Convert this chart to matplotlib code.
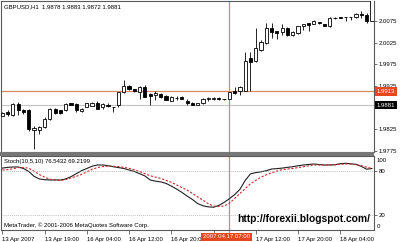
import numpy as np
import matplotlib
matplotlib.use("Agg")
import matplotlib.pyplot as plt
import matplotlib.transforms as mtransforms
from matplotlib.patches import Rectangle

plt.rcParams['font.family'] = ['Liberation Sans', 'DejaVu Sans']

# GBPUSD H1 candles
opens = [1.9857, 1.9865, 1.9858, 1.9884, 1.9870, 1.9869, 1.9824, 1.9823, 1.9831, 1.9848,
         1.9873, 1.9869, 1.9869, 1.9886, 1.9884, 1.9867, 1.9877, 1.9879, 1.9886, 1.9877,
         1.9881, 1.9876, 1.9881, 1.9911, 1.9925, 1.9918, 1.9911, 1.9923, 1.9906, 1.9904,
         1.9906, 1.9902, 1.9891, 1.9898, 1.9900, 1.9891, 1.9887, 1.9882, 1.9885, 1.9896,
         1.9896, 1.9897, 1.9896, 1.9896, 1.9914, 1.9914, 1.9914, 1.9989, 1.9982, 2.0008,
         2.0024, 2.0058, 2.0051, 2.0049, 2.0058, 2.0042, 2.0047, 2.0063, 2.0070, 2.0068,
         2.0072, 2.0068, 2.0063, 2.0081, 2.0083, 2.0083, 2.0083, 2.0083, 2.0091, 2.0088,
         2.0076]
highs = [1.9866, 1.9870, 1.9886, 1.9888, 1.9871, 1.9873, 1.9833, 1.9834, 1.9853, 1.9875,
         1.9875, 1.9870, 1.9886, 1.9887, 1.9885, 1.9874, 1.9887, 1.9888, 1.9891, 1.9886,
         1.9886, 1.9877, 1.9912, 1.9938, 1.9927, 1.9919, 1.9926, 1.9928, 1.9908, 1.9914,
         1.9908, 1.9904, 1.9902, 1.9903, 1.9901, 1.9894, 1.9888, 1.9887, 1.9897, 1.9899,
         1.9900, 1.9900, 1.9896, 1.9912, 1.9923, 1.9925, 2.0004, 2.0004, 2.0058, 2.0031,
         2.0071, 2.0070, 2.0052, 2.0068, 2.0060, 2.0051, 2.0064, 2.0069, 2.0071, 2.0077,
         2.0073, 2.0069, 2.0083, 2.0083, 2.0084, 2.0084, 2.0084, 2.0093, 2.0098, 2.0093,
         2.0130]
lows = [1.9855, 1.9857, 1.9856, 1.9858, 1.9860, 1.9822, 1.9781, 1.9814, 1.9829, 1.9846,
        1.9860, 1.9860, 1.9868, 1.9881, 1.9866, 1.9866, 1.9876, 1.9878, 1.9872, 1.9871,
        1.9876, 1.9866, 1.9877, 1.9910, 1.9916, 1.9912, 1.9896, 1.9899, 1.9881, 1.9893,
        1.9898, 1.9892, 1.9890, 1.9893, 1.9894, 1.9881, 1.9881, 1.9881, 1.9884, 1.9891,
        1.9892, 1.9893, 1.9893, 1.9895, 1.9906, 1.9904, 1.9913, 1.9914, 1.9980, 2.0006,
        2.0022, 2.0035, 2.0033, 2.0042, 2.0040, 2.0041, 2.0046, 2.0054, 2.0051, 2.0067,
        2.0069, 2.0063, 2.0062, 2.0079, 2.0082, 2.0075, 2.0077, 2.0082, 2.0082, 2.0070,
        2.0074]
closes = [1.9863, 1.9860, 1.9883, 1.9870, 1.9866, 1.9825, 1.9828, 1.9831, 1.9848, 1.9873,
          1.9862, 1.9864, 1.9883, 1.9882, 1.9869, 1.9873, 1.9886, 1.9887, 1.9873, 1.9884,
          1.9880, 1.9877, 1.9911, 1.9925, 1.9918, 1.9914, 1.9923, 1.9900, 1.9902, 1.9908,
          1.9900, 1.9893, 1.9900, 1.9897, 1.9895, 1.9885, 1.9882, 1.9886, 1.9896, 1.9898,
          1.9897, 1.9896, 1.9894, 1.9911, 1.9910, 1.9922, 1.9983, 1.9980, 2.0012, 2.0027,
          2.0058, 2.0049, 2.0048, 2.0058, 2.0042, 2.0049, 2.0063, 2.0068, 2.0066, 2.0075,
          2.0070, 2.0064, 2.0081, 2.0081, 2.0082, 2.0084, 2.0084, 2.0091, 2.0088, 2.0075,
          2.0124]

# Stochastic(10,5,10): main and signal
stoch_main = [83.5, 84.5, 85, 85, 83, 79, 72.5, 69, 68, 67.6,
              67.6, 67.6, 69, 72, 76, 80, 83, 86, 87.7, 87.7,
              86.8, 85.4, 84.2, 83, 81, 79, 76, 73, 67.6, 66,
              65, 63, 59.5, 55.5, 51, 46, 41.5, 36, 33, 31.6,
              31, 33.5, 37.5, 42.5, 48, 55, 67, 75.8, 77.5, 78.5,
              80, 82.3, 82.8, 83.5, 84.5, 85.4, 86.6, 87.7, 88.4, 89,
              88.3, 87.7, 87.7, 88, 89.4, 90, 89.3, 88.5, 85.8, 82,
              83]
stoch_signal = [81, 81.5, 82.5, 84.2, 84.4, 83.3, 79.5, 75, 71.5, 68.6,
                67.5, 66.7, 68.2, 70.3, 72.5, 75, 78.5, 81.8, 84.2, 85.6,
                86.1, 86, 85.6, 84.5, 83.2, 81.2, 78.9, 76, 73.3, 71.5,
                69.7, 67.2, 64.4, 61, 57.4, 54, 49.5, 45, 40.5, 35.8,
                32.6, 32, 32.8, 36.3, 42.8, 49.5, 56, 62.5, 67, 71.4,
                74.5, 77.2, 79.5, 81.3, 82.3, 83, 84.2, 85.4, 86.6, 87.7,
                87.7, 87.7, 87.7, 88, 88.6, 89, 89, 88, 86.7, 84.8,
                83]

price_ticks = [2.0075, 2.0025, 1.9975, 1.9925, 1.9825, 1.9775]
time_ticks = [0, 8, 16, 24, 32, 40, 48, 56, 64]
# label at bar 40 (17 Apr 04:00) is hidden under the crosshair time box
time_labels = ["13 Apr 2007", "13 Apr 19:00", "16 Apr 04:00", "16 Apr 12:00", "16 Apr 20:00",
               "", "17 Apr 12:00", "17 Apr 20:00", "18 Apr 04:00"]
cross_bar = 43
cross_price = 1.9913
bid_price = 1.9881

opens, highs, lows, closes = map(np.array, (opens, highs, lows, closes))
x = np.arange(len(opens))

W, H = 400, 242
fig = plt.figure(figsize=(W / 100, H / 100), dpi=100)


def px(l, t, r, b):
    return [l / W, 1 - b / H, (r - l) / W, (b - t) / H]


ax = fig.add_axes(px(1, 1, 373.5, 152))
ax2 = fig.add_axes(px(1, 155.8, 373.5, 230.4))

fs = 4.3
frame = '#5a5a5a'
cross = '#d98a62'
red_box = '#e8461e'

# price panel
ax.vlines(x, lows, highs, color='black', lw=0.6, zorder=2)
up = closes >= opens
ax.bar(x[up], (closes - opens)[up], bottom=opens[up], width=0.6,
       facecolor='white', edgecolor='black', lw=0.6, zorder=3)
ax.bar(x[~up], (opens - closes)[~up], bottom=closes[~up], width=0.6,
       facecolor='black', edgecolor='black', lw=0.6, zorder=3)
ax.axhline(bid_price, color='#c4c4c4', lw=0.8, zorder=1)
ax.axhline(cross_price, color=cross, lw=0.9, zorder=1)
ax.axvline(cross_bar, color=cross, lw=0.9, zorder=1)
ax.set_xlim(-0.25, 70.3)
ax.set_ylim(1.9773, 2.0121)
ax.set_xticks([])
ax.yaxis.tick_right()
ax.set_yticks(price_ticks)
ax.set_yticklabels(["%.4f" % p for p in price_ticks])
ax.tick_params(axis='y', length=2, width=0.6, pad=1.5, labelsize=fs, color=frame)

trans = mtransforms.blended_transform_factory(ax.transAxes, ax.transData)
ax.text(1.008, cross_price, "%.4f" % cross_price, transform=trans, ha='left', va='center',
        fontsize=fs, color='white', bbox=dict(boxstyle='square,pad=0.3', fc=red_box, ec='none'))
ax.text(1.008, bid_price, "%.4f" % bid_price, transform=trans, ha='left', va='center',
        fontsize=fs, color='white', bbox=dict(boxstyle='square,pad=0.3', fc='black', ec='none'))

# stochastic panel
ax2.plot(x, stoch_main, color='#202020', lw=0.8)
ax2.plot(x, stoch_signal, color='#d02828', lw=0.8, dashes=(2, 1.5))
for lvl in (80, 20):
    ax2.axhline(lvl, color='#a8a8a8', lw=0.6, dashes=(1, 1.5))
ax2.axvline(cross_bar, ymin=-0.04, ymax=1, color=cross, lw=0.9, zorder=1, clip_on=False)
ax2.set_xlim(-0.25, 70.3)
ax2.set_ylim(0, 100)
ax2.yaxis.tick_right()
ax2.set_yticks([80, 20])
ax2.set_yticklabels(["80", "20"])
ax2.tick_params(axis='y', length=2, width=0.6, pad=1.5, labelsize=fs, color=frame)
trans2 = mtransforms.blended_transform_factory(ax2.transAxes, ax2.transData)
ax2.text(1.0094, 94, "100", transform=trans2, ha='left', va='center', fontsize=fs)
ax2.text(1.0094, 5, "0", transform=trans2, ha='left', va='center', fontsize=fs)
ax2.set_xticks(time_ticks)
ax2.set_xticklabels(time_labels, ha='left')
ax2.tick_params(axis='x', length=3, width=0.6, pad=2, labelsize=fs, color=frame)

ax2.text(cross_bar - 0.5, -0.088, "2007.04.17 07:00",
         transform=mtransforms.blended_transform_factory(ax2.transData, ax2.transAxes),
         ha='center', va='center', fontsize=fs, color='white', zorder=5,
         bbox=dict(boxstyle='square,pad=0.3', fc=red_box, ec='none'))

for a in (ax, ax2):
    for s in a.spines.values():
        s.set_color(frame)
        s.set_linewidth(0.8)

# separator between windows
fig.add_artist(Rectangle((0, 1 - 155.5 / H), 373.5 / W, 3.2 / H, transform=fig.transFigure,
                         facecolor='#777777', edgecolor='none'))

fig.text(4 / W, 1 - 7 / H, "GBPUSD,H1  1.9878 1.9883 1.9872 1.9881", fontsize=fs, va='center')
fig.text(4 / W, 1 - 162 / H, "Stoch(10,5,10) 76.5432 69.2199", fontsize=fs, va='center')
fig.text(4 / W, 1 - 225 / H, "MetaTrader, \u00a9 2001-2006 MetaQuotes Software Corp.",
         fontsize=fs, va='center')
fig.text(237 / W, 1 - 218.5 / H, "http://forexii.blogspot.com/", fontsize=7.4,
         fontweight='bold', va='center')

fig.savefig("out.png", dpi=100)
